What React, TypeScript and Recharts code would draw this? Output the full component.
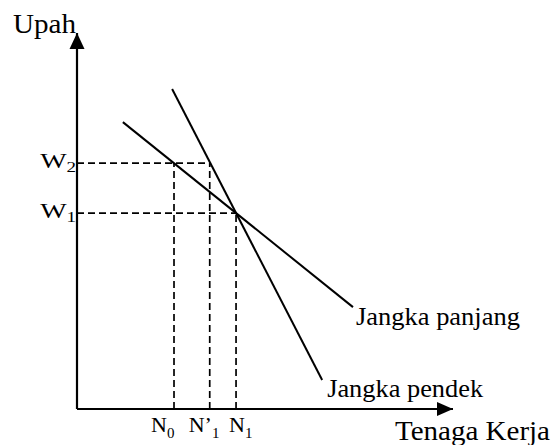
import React from 'react';
import { LineChart, Line, XAxis, YAxis, ReferenceLine, ReferenceDot } from 'recharts';

// Demand curves for labour (0..100 units on both axes)
const longRun = [
  { x: 12.2, y: 76.3 },
  { x: 73.4, y: 27.1 },
];
const shortRun = [
  { x: 25.3, y: 85.1 },
  { x: 65.2, y: 7.7 },
];

// wage levels (y) with the labour level where their guide line stops
const wageLevels = [
  { name: 'W', sub: '2', y: 65.4, toX: 35.3 },
  { name: 'W', sub: '1', y: 52.1, toX: 42.3 },
];
// labour levels (x) with the wage level where their guide line stops
const laborLevels = [
  { name: 'N', sub: '0', x: 25.8, toY: 65.4 },
  { name: 'N\u2019', sub: '1', x: 35.3, toY: 65.4 },
  { name: 'N', sub: '1', x: 42.3, toY: 52.1 },
];

const axisLabels = { y: 'Upah', x: 'Tenaga Kerja' };
const curveLabels = { long: 'Jangka panjang', short: 'Jangka pendek' };

const FONT = '"Liberation Serif", "Times New Roman", serif';

const nOffsets = [-23, -21, -7];

export default function App() {
  return (
    <div style={{ position: 'absolute', left: 0, top: 0, width: 553, height: 445, background: '#fff' }}>
      <LineChart width={553} height={445} margin={{ top: 33, right: 100, bottom: 36, left: 77 }}>
        <XAxis type="number" dataKey="x" domain={[0, 100]} hide allowDataOverflow />
        <YAxis type="number" dataKey="y" domain={[0, 100]} hide allowDataOverflow />

        {/* guide lines */}
        {wageLevels.map((w, i) => (
          <ReferenceLine
            key={'wg' + i}
            segment={[{ x: 0, y: w.y }, { x: w.toX, y: w.y }]}
            stroke="#000"
            strokeWidth={1.7}
            strokeDasharray="7 4"
            ifOverflow="visible"
          />
        ))}
        {laborLevels.map((n, i) => (
          <ReferenceLine
            key={'ng' + i}
            segment={[{ x: n.x, y: 0 }, { x: n.x, y: n.toY }]}
            stroke="#000"
            strokeWidth={1.7}
            strokeDasharray="7 4"
            ifOverflow="visible"
          />
        ))}

        {/* axes */}
        <ReferenceLine segment={[{ x: 0, y: 0 }, { x: 100, y: 0 }]} stroke="#000" strokeWidth={2.2} ifOverflow="visible" />
        <ReferenceLine segment={[{ x: 0, y: 0 }, { x: 0, y: 100 }]} stroke="#000" strokeWidth={2.2} ifOverflow="visible" />
        <ReferenceDot
          x={100}
          y={0}
          r={1}
          ifOverflow="visible"
          shape={(p: any) => (
            <polygon points={`${p.cx},${p.cy} ${p.cx - 16},${p.cy - 7} ${p.cx - 16},${p.cy + 7}`} fill="#000" />
          )}
        />
        <ReferenceDot
          x={0}
          y={100}
          r={1}
          ifOverflow="visible"
          shape={(p: any) => (
            <polygon points={`${p.cx},${p.cy} ${p.cx - 7.5},${p.cy + 16} ${p.cx + 7.5},${p.cy + 16}`} fill="#000" />
          )}
        />

        {/* curves */}
        <Line data={longRun} dataKey="y" type="linear" dot={false} stroke="#000" strokeWidth={2} isAnimationActive={false} />
        <Line data={shortRun} dataKey="y" type="linear" dot={false} stroke="#000" strokeWidth={2} isAnimationActive={false} />

        {/* axis labels */}
        <ReferenceDot
          x={0}
          y={100}
          r={1}
          ifOverflow="visible"
          shape={(p: any) => (
            <text x={p.cx - 1} y={p.cy} textAnchor="end" fontFamily={FONT} fontSize={28} textLength={63} lengthAdjust="spacingAndGlyphs" fill="#000">
              {axisLabels.y}
            </text>
          )}
        />
        <ReferenceDot
          x={100}
          y={0}
          r={1}
          ifOverflow="visible"
          shape={(p: any) => (
            <text x={p.cx - 58} y={p.cy + 31} fontFamily={FONT} fontSize={27} textLength={155} lengthAdjust="spacingAndGlyphs" fill="#000">
              {axisLabels.x}
            </text>
          )}
        />

        {/* curve labels */}
        <ReferenceDot
          x={longRun[1].x}
          y={longRun[1].y}
          r={1}
          ifOverflow="visible"
          shape={(p: any) => (
            <text x={p.cx + 3} y={p.cy + 18} fontFamily={FONT} fontSize={26} textLength={164} lengthAdjust="spacingAndGlyphs" fill="#000">
              {curveLabels.long}
            </text>
          )}
        />
        <ReferenceDot
          x={shortRun[1].x}
          y={shortRun[1].y}
          r={1}
          ifOverflow="visible"
          shape={(p: any) => (
            <text x={p.cx + 5} y={p.cy + 17} fontFamily={FONT} fontSize={26} textLength={156} lengthAdjust="spacingAndGlyphs" fill="#000">
              {curveLabels.short}
            </text>
          )}
        />

        {/* wage tick labels */}
        {wageLevels.map((w, i) => (
          <ReferenceDot
            key={'wl' + i}
            x={0}
            y={w.y}
            r={1}
            ifOverflow="visible"
            shape={(p: any) => (
              <text
                transform={`translate(${p.cx - 1},${p.cy + 5}) scale(1.27,1)`}
                textAnchor="end"
                fontFamily={FONT}
                fill="#000"
              >
                <tspan fontSize={22}>{w.name}</tspan>
                <tspan fontSize={15} dy={4}>{w.sub}</tspan>
              </text>
            )}
          />
        ))}

        {/* labour tick labels */}
        {laborLevels.map((n, i) => (
          <ReferenceDot
            key={'nl' + i}
            x={n.x}
            y={0}
            r={1}
            ifOverflow="visible"
            shape={(p: any) => (
              <text x={p.cx + nOffsets[i]} y={p.cy + 23} fontFamily={FONT} fill="#000">
                <tspan fontSize={22}>{n.name}</tspan>
                <tspan fontSize={15} dy={6}>{n.sub}</tspan>
              </text>
            )}
          />
        ))}
      </LineChart>
    </div>
  );
}
